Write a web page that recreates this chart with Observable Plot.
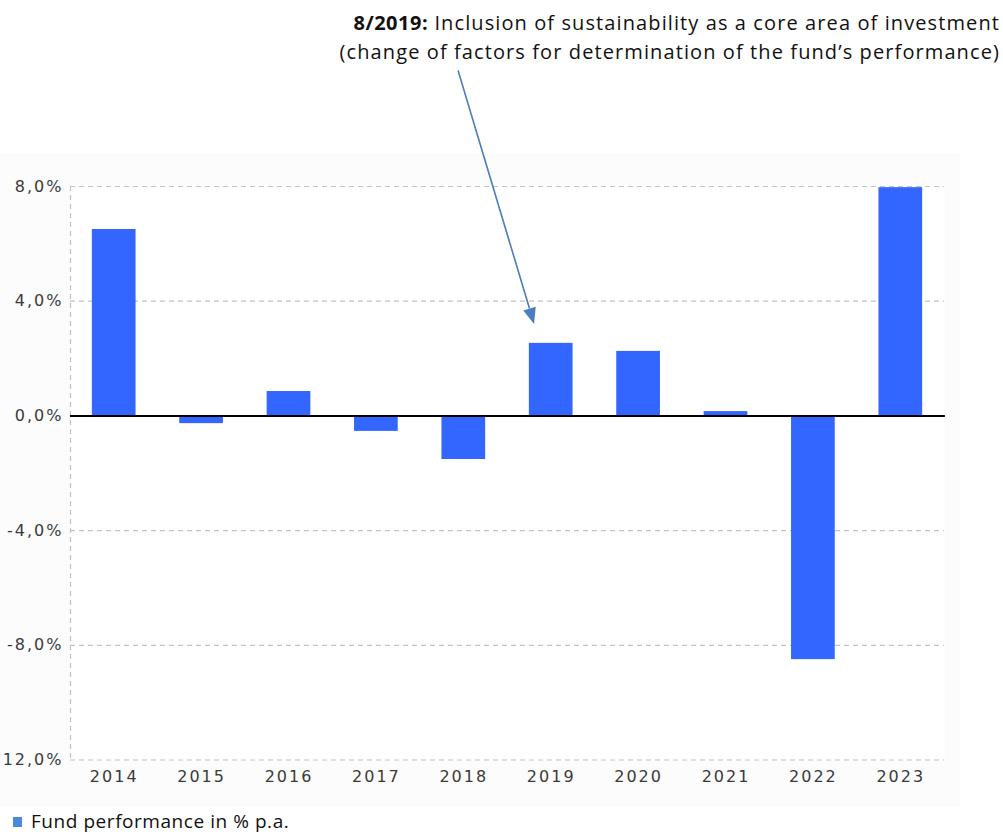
<!DOCTYPE html>
<html>
<head>
<meta charset="utf-8">
<script src="https://cdn.jsdelivr.net/npm/d3@7"></script>
<script src="https://cdn.jsdelivr.net/npm/@observablehq/plot@0.6"></script>
<style>
  html, body { margin: 0; padding: 0; background: #ffffff; }
  #wrap { position: relative; width: 1003px; height: 834px; overflow: hidden; }
  #bg { position: absolute; left: 0; top: 153px; width: 960px; height: 654px; background: #fcfcfc; }
  #chart { position: absolute; left: 0; top: 0; }
  #note { position: absolute; right: 3px; top: 8px; text-align: right; font-family: "Open Sans", sans-serif; font-size: 20px; letter-spacing: 1.1px; line-height: 29px; color: #111; white-space: nowrap; }
  #note b { font-weight: 700; letter-spacing: 0.5px; }
  #legend { position: absolute; left: 13px; top: 808px; font-family: "Open Sans", sans-serif; font-size: 19px; letter-spacing: 0.55px; color: #111; white-space: nowrap; }
  #legend .sw { display: inline-block; width: 9px; height: 10px; background: #4a88da; margin-right: 9px; vertical-align: 1px; }
</style>
</head>
<body>
<div id="wrap">
  <div id="bg"></div>
  <div id="chart"></div>
  <div id="note"><b>8/2019:</b> Inclusion of sustainability as a core area of investment<br>(change of factors for determination of the fund’s performance)</div>
  <div id="legend"><span class="sw"></span>Fund performance in % p.a.</div>
</div>
<script>
// Data
const years = [2014, 2015, 2016, 2017, 2018, 2019, 2020, 2021, 2022, 2023];
const values = [6.5, -0.27, 0.85, -0.54, -1.52, 2.53, 2.25, 0.15, -8.5, 7.96];
const yTicks = [-12, -8, -4, 0, 4, 8];
const yTickLabels = ["12,0%", "-8,0%", "-4,0%", "0,0%", "4,0%", "8,0%"];
const xDomain = [2013.5, 2023.5];
const yDomain = [-12, 8];
// annotation arrow (data coordinates: fractional year, percent)
const arrowFrom = [2017.94, 12.03];
const arrowTo = [2018.81, 3.19];

const data = years.map((year, i) => ({year, value: values[i]}));

function annotationArrow(index, scales) {
  const x = scales.x, y = scales.y;
  const x1 = x(arrowFrom[0]), y1 = y(arrowFrom[1]);
  const x2 = x(arrowTo[0]), y2 = y(arrowTo[1]);
  const ang = Math.atan2(y2 - y1, x2 - x1);
  const hl = 16, hw = 6.5;
  const bx = x2 - hl * Math.cos(ang), by = y2 - hl * Math.sin(ang);
  const px = -Math.sin(ang), py = Math.cos(ang);
  const g = d3.create("svg:g");
  g.append("line")
    .attr("x1", x1).attr("y1", y1).attr("x2", bx).attr("y2", by)
    .attr("stroke", "#4a7ebd").attr("stroke-width", 1.6);
  g.append("polygon")
    .attr("points", [[x2, y2], [bx + px * hw, by + py * hw], [bx - px * hw, by - py * hw]].map(p => p.join(",")).join(" "))
    .attr("fill", "#4a7ebd");
  return g.node();
}

const plot = Plot.plot({
  width: 1003,
  height: 808,
  marginTop: 186,
  marginBottom: 48.5,
  marginLeft: 70,
  marginRight: 59,
  style: {fontFamily: "DejaVu Sans", fontSize: "16px", letterSpacing: "2px", color: "#3a3a3a", background: "transparent", overflow: "visible"},
  x: {domain: xDomain},
  y: {domain: yDomain},
  marks: [
    Plot.frame({fill: "white", stroke: null}),
    Plot.ruleY(yTicks.filter(d => d !== 0), {stroke: "#c2c2c2", strokeWidth: 1.2, strokeDasharray: "5,4"}),
    Plot.ruleX([xDomain[0]], {stroke: "#c2c2c2", strokeWidth: 1.2, strokeDasharray: "5,4"}),
    Plot.rectY(data, {x1: d => d.year - 0.25, x2: d => d.year + 0.25, y: "value", fill: "#3366ff"}),
    Plot.ruleY([0], {stroke: "#000", strokeWidth: 2, x1: xDomain[0], x2: 2023.51}),
    Plot.axisY({ticks: yTicks, tickFormat: d => yTickLabels[yTicks.indexOf(d)], tickSize: 0, tickPadding: 7, fontSize: 16, label: null, fill: "#3a3a3a"}),
    Plot.axisX({ticks: years, tickFormat: d => String(d), tickSize: 0, tickPadding: 11, fontSize: 16, label: null, fill: "#3a3a3a"}),
    annotationArrow
  ]
});
document.getElementById("chart").appendChild(plot);
</script>
</body>
</html>
